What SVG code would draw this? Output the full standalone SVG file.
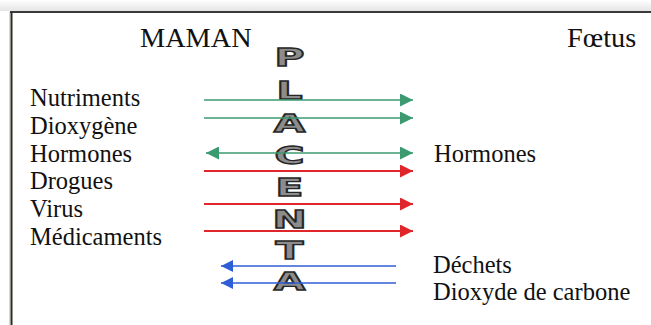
<svg xmlns="http://www.w3.org/2000/svg" width="651" height="325" viewBox="0 0 651 325">
  <style>
    .lbl { font-family: "Liberation Serif", "Times New Roman", serif; font-size: 24.5px; fill: #111; }
    .ttl { font-family: "Liberation Serif", "Times New Roman", serif; font-size: 28.3px; fill: #111; }
    .plc { font-family: "DejaVu Sans", "Liberation Sans", sans-serif; font-weight: bold; font-size: 24px; fill: #8c8c8c; stroke: #262626; stroke-width: 1.3px; text-anchor: middle; }
    .g { stroke: #3c9a70; stroke-width: 1.6; fill: none; }
    .r { stroke: #e0262a; stroke-width: 1.8; fill: none; }
    .b { stroke: #2f5fd6; stroke-width: 1.5; fill: none; }
  </style>
  <defs>
    <linearGradient id="topg" x1="0" y1="0" x2="0" y2="1">
      <stop offset="0" stop-color="#ffffff"/>
      <stop offset="1" stop-color="#e4e4e4"/>
    </linearGradient>
    <marker id="ag" viewBox="0 0 10 10" refX="10" refY="5" markerWidth="15" markerHeight="13" markerUnits="userSpaceOnUse" orient="auto-start-reverse">
      <path d="M0,0 L10,5 L0,10 Z" fill="#3c9a70"/>
    </marker>
    <marker id="ar" viewBox="0 0 10 10" refX="10" refY="5" markerWidth="15" markerHeight="13" markerUnits="userSpaceOnUse" orient="auto-start-reverse">
      <path d="M0,0 L10,5 L0,10 Z" fill="#e0262a"/>
    </marker>
    <marker id="ab" viewBox="0 0 10 10" refX="10" refY="5" markerWidth="15" markerHeight="12" markerUnits="userSpaceOnUse" orient="auto-start-reverse">
      <path d="M0,0 L10,5 L0,10 Z" fill="#2f5fd6"/>
    </marker>
  </defs>

  <g id="frame">
    <rect x="0" y="0" width="651" height="325" fill="#ffffff"/>
    <rect x="0" y="0" width="651" height="11" fill="url(#topg)"/>
    <line x1="10" y1="12" x2="651" y2="12" stroke="#3a3a3a" stroke-width="2"/>
    <line x1="9.5" y1="12" x2="9.5" y2="325" stroke="#e8e070" stroke-width="1"/>
    <line x1="11.5" y1="12" x2="11.5" y2="325" stroke="#2a2a20" stroke-width="2"/>
  </g>

  <g id="titles">
    <text class="ttl" x="140" y="47">MAMAN</text>
    <text class="ttl" x="567" y="47">Fœtus</text>
  </g>

  <g id="placenta" transform="translate(289.5 0) scale(1.7 1)">
    <text class="plc" x="0" y="66">P</text>
    <text class="plc" x="0" y="99">L</text>
    <text class="plc" x="0" y="132">A</text>
    <text class="plc" x="0" y="164">C</text>
    <text class="plc" x="0" y="196">E</text>
    <text class="plc" x="0" y="228">N</text>
    <text class="plc" x="0" y="259">T</text>
    <text class="plc" x="0" y="290">A</text>
  </g>

  <g id="left-labels">
    <text class="lbl" x="30" y="106">Nutriments</text>
    <text class="lbl" x="30" y="134">Dioxygène</text>
    <text class="lbl" x="30" y="162">Hormones</text>
    <text class="lbl" x="30" y="189">Drogues</text>
    <text class="lbl" x="30" y="217">Virus</text>
    <text class="lbl" x="30" y="245">Médicaments</text>
  </g>

  <g id="right-labels">
    <text class="lbl" x="434" y="162">Hormones</text>
    <text class="lbl" x="433" y="273">Déchets</text>
    <text class="lbl" x="433" y="300">Dioxyde de carbone</text>
  </g>

  <g id="connectors">
    <line class="g" x1="204" y1="100" x2="413" y2="100" marker-end="url(#ag)"/>
    <line class="g" x1="204" y1="118" x2="413" y2="118" marker-end="url(#ag)"/>
    <line class="g" x1="206" y1="153" x2="413" y2="153" marker-start="url(#ag)" marker-end="url(#ag)"/>
    <line class="r" x1="204" y1="171" x2="413" y2="171" marker-end="url(#ar)"/>
    <line class="r" x1="204" y1="204" x2="413" y2="204" marker-end="url(#ar)"/>
    <line class="r" x1="204" y1="231" x2="413" y2="231" marker-end="url(#ar)"/>
    <line class="b" x1="396" y1="266" x2="221" y2="266" marker-end="url(#ab)"/>
    <line class="b" x1="396" y1="283" x2="221" y2="283" marker-end="url(#ab)"/>
  </g>
</svg>
